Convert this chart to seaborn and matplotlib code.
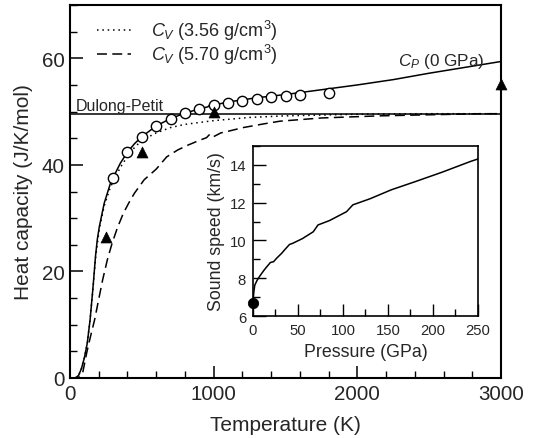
import numpy as np
import pandas as pd
import matplotlib
matplotlib.use("Agg")
import matplotlib.pyplot as plt
import seaborn as sns
from matplotlib.ticker import MultipleLocator
from matplotlib.lines import Line2D

# ---------------- data ----------------
cp_T = [0, 40, 60, 80, 100, 120, 140, 160, 178, 190, 204, 238, 282, 300, 350, 400, 450, 500,
        600, 700, 800, 900, 960, 985, 1000, 1100, 1200, 1300, 1400, 1500, 1750, 2000, 2250,
        2500, 2750, 3000]
cp_C = [0, 0.05, 0.5, 1.8, 3.8, 6.5, 11.0, 17.0, 23.0, 26.0, 28.4, 32.8, 36.6, 37.6, 40.3, 42.4,
        44.0, 45.3, 47.3, 48.7, 49.7, 50.5, 50.9, 51.6, 51.2, 51.8, 52.2, 52.6, 52.9, 53.2, 54.1,
        55.0, 56.0, 57.2, 58.3, 59.4]

cv1_T = [0, 40, 60, 80, 100, 120, 140, 160, 178, 204, 238, 282, 300, 350, 400, 450, 500, 600,
         700, 800, 1000, 1250, 1500, 2000, 2500, 3000]
cv1_C = [0, 0.05, 0.5, 1.8, 3.8, 6.5, 11.0, 16.8, 22.6, 28.0, 32.3, 35.9, 36.8, 39.5, 41.6, 43.3,
         44.6, 46.0, 47.0, 47.6, 48.3, 48.9, 49.2, 49.5, 49.6, 49.6]

cv2_T = [0, 50, 71, 90, 116, 140, 171, 200, 227, 260, 293, 330, 371, 410, 449, 516, 600, 673,
         750, 812, 900, 950, 975, 1000, 1050, 1100, 1206, 1350, 1462, 1750, 2158, 2500, 2854, 3000]
cv2_C = [0, 0.05, 0.3, 1.2, 4.7, 7.5, 10.9, 14.8, 18.4, 22.2, 25.3, 28.2, 30.9, 32.9, 34.7, 37.2,
         39.2, 41.5, 42.8, 43.6, 44.6, 45.1, 45.8, 45.3, 46.0, 46.3, 47.0, 47.7, 48.2, 48.8, 49.2,
         49.4, 49.6, 49.6]

circ_T = [300, 400, 500, 600, 700, 800, 900, 1000, 1100, 1200, 1300, 1400, 1500, 1600, 1800]
circ_C = [37.6, 42.4, 45.3, 47.3, 48.7, 49.7, 50.5, 51.2, 51.7, 52.0, 52.4, 52.7, 53.0, 53.2, 53.5]

tri_T = [250, 500, 1000, 3000]
tri_C = [26.4, 42.5, 49.9, 55.1]

dulong_petit = 49.5

ins_P = [0, 1, 2, 4.6, 8, 12.4, 16, 19.4, 22.9, 26, 31.8, 36, 40.6, 44.1, 55, 67, 72.3, 85,
         104, 111, 130, 153.5, 180, 210, 241.7, 250]
ins_v = [6.75, 7.3, 7.64, 7.9, 8.15, 8.44, 8.65, 8.84, 8.88, 9.05, 9.32, 9.55, 9.79, 9.85, 10.1,
         10.46, 10.82, 11.05, 11.52, 11.88, 12.2, 12.67, 13.1, 13.6, 14.17, 14.3]
ins_dot_P = [0]
ins_dot_v = [6.72]

# ---------------- style ----------------
sns.set_theme(style="ticks")
plt.rcParams['font.family'] = ['Liberation Sans', 'DejaVu Sans']
plt.rcParams['mathtext.fontset'] = 'custom'
plt.rcParams['mathtext.rm'] = 'Liberation Sans'
plt.rcParams['mathtext.it'] = 'Liberation Sans:italic'
plt.rcParams['mathtext.bf'] = 'Liberation Sans:bold'

fig = plt.figure(figsize=(5.44, 4.39), dpi=100)
ax = fig.add_axes([0.1287, 0.1367, 0.7923, 0.8496])

lw = 1.1
df_cp = pd.DataFrame({"T": cp_T, "C": cp_C})
df_cv1 = pd.DataFrame({"T": cv1_T, "C": cv1_C})
df_cv2 = pd.DataFrame({"T": cv2_T, "C": cv2_C})
dotted = (0, (1, 2.5))
dashed = (0, (6.5, 3.5))

ax.axhline(dulong_petit, color='black', lw=lw, zorder=2)
sns.lineplot(data=df_cp, x="T", y="C", ax=ax, color='black', lw=lw, sort=False, zorder=3)
sns.lineplot(data=df_cv1, x="T", y="C", ax=ax, color='black', lw=lw, sort=False,
             linestyle=dotted, zorder=3)
sns.lineplot(data=df_cv2, x="T", y="C", ax=ax, color='black', lw=lw, sort=False,
             linestyle=dashed, zorder=3)
sns.scatterplot(x=circ_T, y=circ_C, ax=ax, marker='o', s=55, facecolor='white',
                edgecolor='black', linewidth=1.0, zorder=4)
sns.scatterplot(x=tri_T, y=tri_C, ax=ax, marker='^', s=62, color='black',
                edgecolor='black', linewidth=0.5, zorder=5, clip_on=False)

ax.set_xlim(0, 3000)
ax.set_ylim(0, 70)
ax.xaxis.set_major_locator(MultipleLocator(1000))
ax.xaxis.set_minor_locator(MultipleLocator(200))
ax.yaxis.set_major_locator(MultipleLocator(20))
ax.yaxis.set_minor_locator(MultipleLocator(5))
ax.tick_params(which='both', direction='in', top=False, right=False, color='black')
ax.tick_params(which='major', length=9, width=1.1, labelsize=14.8, pad=4)
ax.tick_params(which='minor', length=5, width=1.0)
for s in ax.spines.values():
    s.set_linewidth(1.5)
    s.set_color('black')
ax.set_xlabel("Temperature (K)", fontsize=15, labelpad=9)
ax.set_ylabel("Heat capacity (J/K/mol)", fontsize=15, labelpad=6)

ax.text(42, 50.3, "Dulong-Petit", fontsize=11.5, ha='left', va='baseline')
ax.text(2283, 58.8, r"$C_P$ (0 GPa)", fontsize=12.3, ha='left', va='baseline')

handles = [Line2D([], [], color='black', lw=lw, linestyle=dotted),
           Line2D([], [], color='black', lw=lw, linestyle=dashed)]
labels = [r"$C_V$ (3.56 g/cm$^3$)", r"$C_V$ (5.70 g/cm$^3$)"]
ax.legend(handles, labels, loc='upper left', bbox_to_anchor=(0.046, 0.984), frameon=False,
          fontsize=13, handlelength=1.9, handletextpad=1.1, labelspacing=0.0,
          borderaxespad=0.0)

# ---------------- inset ----------------
ins = fig.add_axes([0.465, 0.2772, 0.4136, 0.3886])
df_ins = pd.DataFrame({"P": ins_P, "v": ins_v})
sns.lineplot(data=df_ins, x="P", y="v", ax=ins, color='black', lw=lw, sort=False)
sns.scatterplot(x=ins_dot_P, y=ins_dot_v, ax=ins, color='black', s=55, clip_on=False,
                zorder=5, edgecolor='black')
ins.set_xlim(0, 250)
ins.set_ylim(6, 15)
ins.xaxis.set_major_locator(MultipleLocator(50))
ins.xaxis.set_minor_locator(MultipleLocator(25))
ins.yaxis.set_major_locator(MultipleLocator(2))
ins.yaxis.set_minor_locator(MultipleLocator(1))
ins.tick_params(which='both', direction='in', top=False, right=False, color='black')
ins.tick_params(which='major', length=9, width=1.0, labelsize=10.7, pad=5)
ins.tick_params(which='minor', length=5, width=1.0)
for s in ins.spines.values():
    s.set_linewidth(1.2)
    s.set_color('black')
ins.set_xlabel("Pressure (GPa)", fontsize=12.8, labelpad=4)
ins.set_ylabel("Sound speed (km/s)", fontsize=12.8, labelpad=3)

fig.savefig("out.png", dpi=100)
